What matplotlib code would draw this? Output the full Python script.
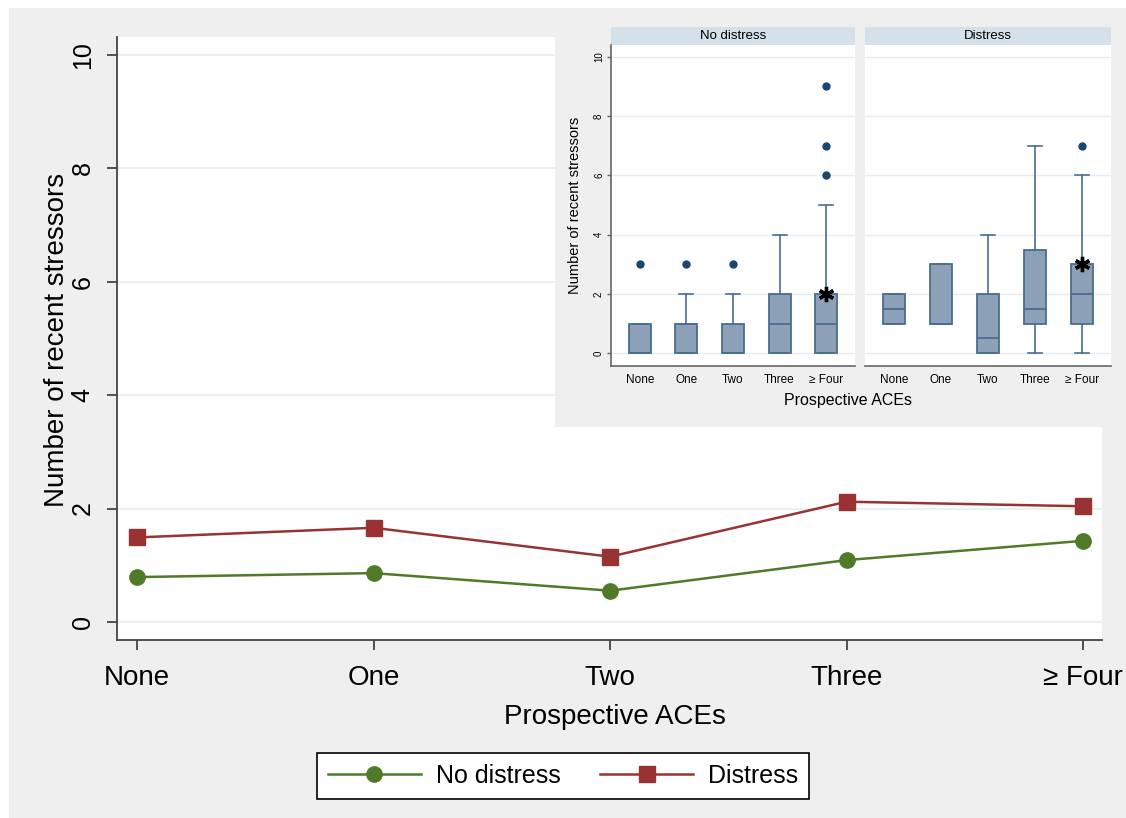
import matplotlib
matplotlib.use("Agg")
import matplotlib.pyplot as plt
from matplotlib.patches import Rectangle
from matplotlib.lines import Line2D

plt.rcParams["font.family"] = ["Liberation Sans", "DejaVu Sans"]

# ---- data -------------------------------------------------------------
categories = ["None", "One", "Two", "Three", "\u2265 Four"]
groups = ["No distress", "Distress"]

# mean number of recent stressors by prospective ACEs
mean_no_distress = [0.79, 0.86, 0.55, 1.09, 1.43]
mean_distress = [1.49, 1.66, 1.15, 2.12, 2.04]

# box-plot summaries (q1, median, q3, lower whisker, upper whisker, outliers)
nd_q1 = [0, 0, 0, 0, 0]
nd_med = [0, 1, 0, 1, 1]
nd_q3 = [1, 1, 1, 2, 2]
nd_lo = [0, 0, 0, 0, 0]
nd_hi = [1, 2, 2, 4, 5]
nd_out = [[3], [3], [3], [], [6, 7, 9]]
nd_star = [None, None, None, None, 2]

d_q1 = [1, 1, 0, 1, 1]
d_med = [1.5, 1, 0.5, 1.5, 2]
d_q3 = [2, 3, 2, 3.5, 3]
d_lo = [1, 1, 0, 0, 0]
d_hi = [2, 3, 4, 7, 6]
d_out = [[], [], [], [], [7]]
d_star = [None, None, None, None, 3]

y_ticks = [0, 2, 4, 6, 8, 10]

# ---- styling ----------------------------------------------------------
W, H = 1126, 818
BG = "#efefef"
GRID = "#e4eef2"
GREEN = "#4f7a28"
RED = "#993333"
BOX_FILL = "#8ca0b7"
BOX_EDGE = "#4a6d92"
FLIER = "#1a476f"
HEADER = "#d5e1e8"
AXC = "#444444"


def fbox(x0, y0, x1, y1):
    """pixel box (top-left origin) -> figure fraction [l, b, w, h]"""
    return [x0 / W, 1 - y1 / H, (x1 - x0) / W, (y1 - y0) / H]


fig = plt.figure(figsize=(W / 100, H / 100), dpi=100, facecolor="white")
fig.patches.append(Rectangle((9 / W, 0), 1, 1 - 8 / H, transform=fig.transFigure,
                             facecolor=BG, edgecolor="none", zorder=-10))

# ---- main line chart --------------------------------------------------
ax = fig.add_axes(fbox(117, 37, 1102, 640))
ax.set_facecolor("white")
x = list(range(len(categories)))
ax.plot(x, mean_no_distress, color=GREEN, lw=1.8, marker="o", ms=11,
        mec=GREEN, mfc=GREEN, label=groups[0], zorder=3)
ax.plot(x, mean_distress, color=RED, lw=1.8, marker="s", ms=12,
        mec=RED, mfc=RED, label=groups[1], zorder=3)
ax.set_xlim(-0.085, 4.08)
ax.set_ylim(-0.32, 10.32)
ax.set_yticks(y_ticks)
ax.set_yticklabels([str(t) for t in y_ticks], rotation=90, va="center",
                   fontsize=18)
ax.set_xticks(x)
ax.set_xticklabels(categories, fontsize=20)
for t in y_ticks:
    ax.axhline(t, color=GRID, lw=1.2, zorder=1)
for s in ("top", "right"):
    ax.spines[s].set_visible(False)
for s in ("left", "bottom"):
    ax.spines[s].set_color(AXC)
    ax.spines[s].set_linewidth(1.3)
ax.tick_params(axis="y", length=7, width=1.3, color=AXC, pad=9)
ax.tick_params(axis="x", length=7, width=1.3, color=AXC, pad=11)
fig.text(57 / W, 1 - 340 / H, "Number of recent stressors", rotation=90,
         ha="center", va="center", fontsize=20)
fig.text(615 / W, 1 - 717 / H, "Prospective ACEs", ha="center",
         va="center", fontsize=20)

# legend
handles = [
    Line2D([], [], color=GREEN, lw=1.8, marker="o", ms=11, mfc=GREEN, mec=GREEN),
    Line2D([], [], color=RED, lw=1.8, marker="s", ms=12, mfc=RED, mec=RED),
]
leg = fig.legend(handles, groups, loc="center", ncol=2, fontsize=18,
                 bbox_to_anchor=(563 / W, 1 - 776 / H), frameon=True,
                 fancybox=False, edgecolor="black", handlelength=3.7,
                 handletextpad=0.6, columnspacing=1.6, borderpad=0.45)
leg.get_frame().set_linewidth(1.2)
leg.get_frame().set_facecolor("white")
leg.get_frame().set_alpha(1.0)

# ---- inset box plots --------------------------------------------------
bg_ax = fig.add_axes(fbox(555, 8, 1126, 427))
bg_ax.set_facecolor(BG)
bg_ax.set_xticks([])
bg_ax.set_yticks([])
for s in bg_ax.spines.values():
    s.set_visible(False)

panels = [
    (groups[0], (611, 855), nd_q1, nd_med, nd_q3, nd_lo, nd_hi, nd_out, nd_star),
    (groups[1], (865, 1111), d_q1, d_med, d_q3, d_lo, d_hi, d_out, d_star),
]
for i, (title, (px0, px1), q1, med, q3, lo, hi, out, star) in enumerate(panels):
    hx = fig.add_axes(fbox(px0, 27, px1, 45))
    hx.set_facecolor(HEADER)
    hx.set_xticks([])
    hx.set_yticks([])
    for s in hx.spines.values():
        s.set_visible(False)
    hx.text(0.5, 0.5, title, ha="center", va="center", fontsize=9.5,
            transform=hx.transAxes)

    bx = fig.add_axes(fbox(px0, 45, px1, 366))
    bx.set_facecolor("white")
    stats = []
    for k in range(len(categories)):
        stats.append(dict(q1=q1[k], med=med[k], q3=q3[k], whislo=lo[k],
                          whishi=hi[k], fliers=out[k]))
    pos = list(range(len(categories)))
    bx.bxp(stats, positions=pos, widths=0.47, patch_artist=True,
           showfliers=True,
           boxprops=dict(facecolor=BOX_FILL, edgecolor=BOX_EDGE, lw=1.3),
           medianprops=dict(color=BOX_EDGE, lw=1.3),
           whiskerprops=dict(color=BOX_EDGE, lw=1.2),
           capprops=dict(color=BOX_EDGE, lw=1.2),
           capwidths=0.3,
           flierprops=dict(marker="o", ms=5, mfc=FLIER, mec=FLIER))
    sx = [pos[k] for k, sy in enumerate(star) if sy is not None]
    sy = [sy for sy in star if sy is not None]
    bx.plot(sx, sy, ls="none", marker=(6, 2, 0), ms=11, mew=2.4,
            color="black", zorder=6)
    for t in y_ticks:
        bx.axhline(t, color=GRID, lw=1.0, zorder=0)
    bx.set_xlim(-0.62, 4.62)
    bx.set_ylim(-0.43, 10.4)
    bx.set_xticks(pos)
    bx.set_xticklabels(categories, fontsize=8.5)
    bx.tick_params(axis="x", length=0, pad=6)
    for s in ("top", "right"):
        bx.spines[s].set_visible(False)
    bx.spines["bottom"].set_color("#666666")
    bx.spines["bottom"].set_linewidth(1.2)
    if i == 0:
        bx.set_yticks(y_ticks)
        bx.set_yticklabels([str(t) for t in y_ticks], rotation=90,
                           va="center", fontsize=7)
        bx.tick_params(axis="y", length=3, width=1, color="#666666", pad=2)
        bx.spines["left"].set_color("#666666")
        bx.spines["left"].set_linewidth(1.2)
    else:
        bx.set_yticks([])
        bx.spines["left"].set_visible(False)

fig.text(575 / W, 1 - 205 / H, "Number of recent stressors", rotation=90,
         ha="center", va="center", fontsize=10.5)
fig.text(848 / W, 1 - 401 / H, "Prospective ACEs", ha="center",
         va="center", fontsize=11.5)

fig.savefig("out.png", dpi=100, facecolor=fig.get_facecolor())
